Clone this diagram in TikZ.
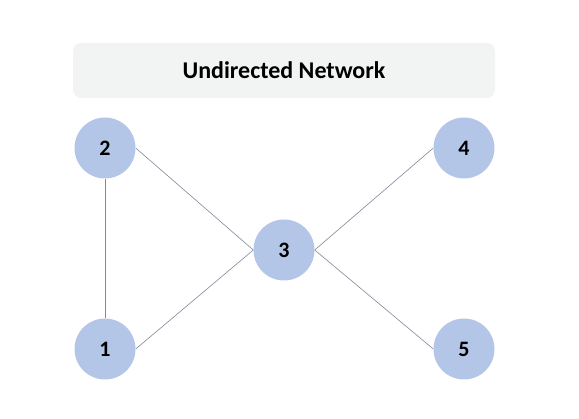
\documentclass[tikz,border=0pt]{standalone}
\usepackage{fontspec}
\setmainfont{Carlito}
\definecolor{nodefill}{HTML}{B4C6E7}
\definecolor{boxfill}{HTML}{F2F3F3}
\definecolor{edgecol}{HTML}{7F8898}
\begin{document}
\begin{tikzpicture}[x=1pt,y=-1pt,
  vertex/.style={circle,fill=nodefill,minimum size=61pt,inner sep=0pt,font=\fontsize{22}{26}\selectfont\bfseries},
  edge/.style={draw=edgecol,line width=0.6pt},
  titlebox/.style={rounded corners=8pt,fill=boxfill,minimum width=422pt,minimum height=55pt,inner sep=0pt,font=\fontsize{24}{28}\selectfont\bfseries}]
\useasboundingbox (0,0) rectangle (579,419);
\node[titlebox] (title) at (284,70.5) {Undirected Network};
\node[vertex] (n2) at (105,148) {2};
\node[vertex] (n4) at (464,148) {4};
\node[vertex] (n3) at (284,250) {3};
\node[vertex] (n1) at (105,349) {1};
\node[vertex] (n5) at (464,349) {5};
\draw[edge] (n2.south) -- (n1.north);
\draw[edge] (n2.east) -- (n3.west);
\draw[edge] (n1.east) -- (n3.west);
\draw[edge] (n3.east) -- (n4.west);
\draw[edge] (n3.east) -- (n5.west);
\end{tikzpicture}
\end{document}
